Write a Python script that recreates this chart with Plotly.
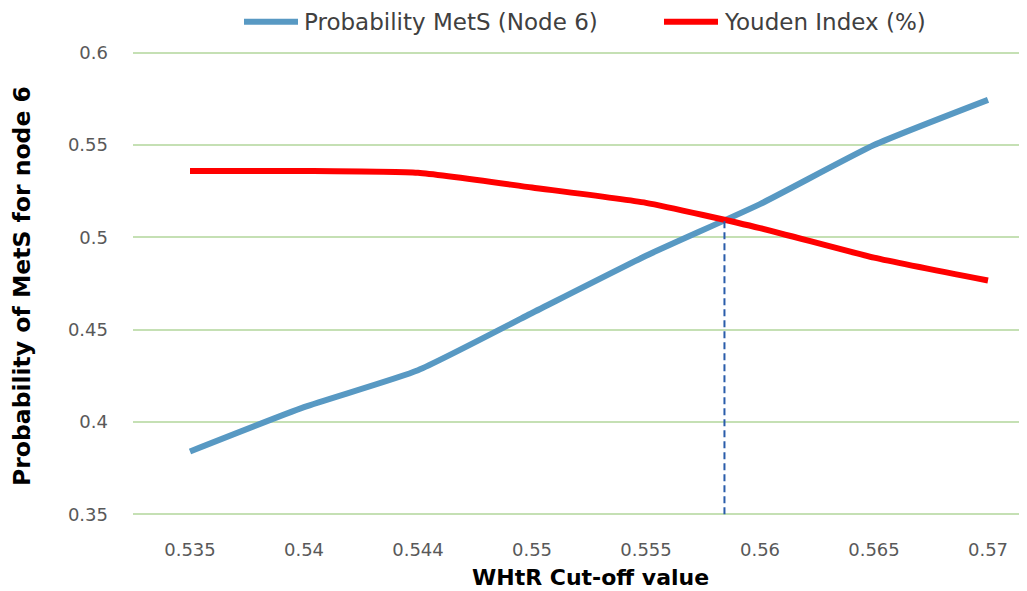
import plotly.graph_objects as go

# ---- data ----
cutoffs = ["0.535", "0.54", "0.544", "0.55", "0.555", "0.56", "0.565", "0.57"]
prob_mets = [0.384, 0.408, 0.428, 0.459, 0.490, 0.518, 0.550, 0.5745]
youden = [0.536, 0.536, 0.535, 0.527, 0.5187, 0.505, 0.489, 0.4766]
y_ticks = [0.35, 0.4, 0.45, 0.5, 0.55, 0.6]
y_tick_text = ["0.35", "0.4", "0.45", "0.5", "0.55", "0.6"]

series_names = ["Probability MetS (Node 6)", "Youden Index (%)"]
series_colors = ["#5899c3", "#ff0000"]
x_title = "WHtR Cut-off value"
y_title = "Probability of MetS for node 6"

# crossing point of the two curves (linear intersection), from the data
cross_x, cross_y = None, None
for i in range(len(cutoffs) - 1):
    d0 = prob_mets[i] - youden[i]
    d1 = prob_mets[i + 1] - youden[i + 1]
    if d0 <= 0 < d1:
        t = -d0 / (d1 - d0)
        cross_x = i + t
        cross_y = prob_mets[i] + t * (prob_mets[i + 1] - prob_mets[i])
        break

# page has an 8px body margin; compensate so the plot sits where the reference has it
OFF = 8
PAGE_W, PAGE_H = 1027, 591
W, H = PAGE_W - OFF, PAGE_H - OFF
PX_PER_UNIT = (514 - 53) / 0.25
PAD = 0.0015
Y_LO, Y_HI = 0.35 - PAD, 0.6 + PAD
PLOT_L = 133
PLOT_T = 53 - PAD * PX_PER_UNIT
PLOT_B = 514 + PAD * PX_PER_UNIT
ML, MR, MT, MB = PLOT_L - OFF, 0, PLOT_T - OFF, PAGE_H - PLOT_B
pw = W - ML - MR
ph = H - MT - MB


def px_x(p):
    return (p - PLOT_L) / pw


def px_y(p):
    return (PLOT_B - p) / ph


fig = go.Figure()
fig.add_trace(go.Scatter(
    x=cutoffs, y=prob_mets, mode="lines", name=series_names[0],
    line=dict(color=series_colors[0], width=6, shape="spline", smoothing=0.5),
))
fig.add_trace(go.Scatter(
    x=cutoffs, y=youden, mode="lines", name=series_names[1],
    line=dict(color=series_colors[1], width=6, shape="spline", smoothing=0.5),
))

fig.add_shape(type="line", xref="x", yref="y",
              x0=cross_x, x1=cross_x, y0=y_ticks[0], y1=cross_y,
              line=dict(color="#2a5caa", width=2, dash="7px,4px"), layer="above")

# custom legend (line sample + label)
legend_items = [(244, 298, 302), (664, 718, 722)]
leg_y = 22
for (lx0, lx1, tx), name, col in zip(legend_items, series_names, series_colors):
    fig.add_shape(type="line", xref="paper", yref="paper",
                  x0=px_x(lx0), x1=px_x(lx1), y0=px_y(leg_y), y1=px_y(leg_y),
                  line=dict(color=col, width=6))
    fig.add_annotation(text=name, xref="paper", yref="paper",
                       x=px_x(tx), y=px_y(leg_y), xanchor="left", yanchor="middle",
                       showarrow=False,
                       font=dict(family="DejaVu Sans", size=23, color="#404040"))

fig.add_annotation(text=x_title, xref="paper", yref="paper",
                   x=px_x(590), y=px_y(577),
                   xanchor="center", yanchor="middle", showarrow=False,
                   font=dict(family="DejaVu Sans", size=22, color="#000000", weight="bold"))
fig.add_annotation(text=y_title, xref="paper", yref="paper",
                   x=px_x(22), y=px_y(286), textangle=-90,
                   xanchor="center", yanchor="middle", showarrow=False,
                   font=dict(family="DejaVu Sans", size=23.5, color="#000000", weight="bold"))

fig.update_layout(
    width=W, height=H,
    margin=dict(l=ML, r=MR, t=MT, b=MB, autoexpand=False),
    plot_bgcolor="white", paper_bgcolor="white",
    showlegend=False,
    xaxis=dict(type="category", range=[-0.5, -0.5 + pw / 114.0], showgrid=False,
               zeroline=False, showline=False, ticks="", automargin=False,
               tickfont=dict(family="DejaVu Sans", size=18, color="#595959"),
               ticklabelstandoff=20),
    yaxis=dict(range=[Y_LO, Y_HI], tickvals=y_ticks, ticktext=y_tick_text,
               showgrid=True, gridcolor="#c5e0b4", gridwidth=2, automargin=False,
               zeroline=False, showline=False, ticks="",
               tickfont=dict(family="DejaVu Sans", size=18, color="#595959"),
               ticklabelstandoff=24),
)

fig.write_html("out.html")
